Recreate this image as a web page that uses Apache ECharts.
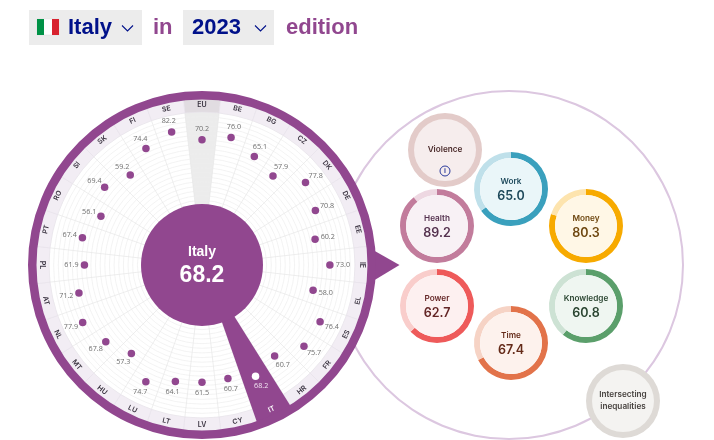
<!DOCTYPE html>
<html>
<head>
    <meta charset="utf-8">
    <title>Gender Equality Index</title>
    <style>
        html, body { margin: 0; padding: 0; background: #fff; }
        #chart { width: 714px; height: 440px; }
    </style>
</head>
<body>
    <div id="chart"></div>
    <script src="https://cdn.jsdelivr.net/npm/echarts@6/dist/echarts.min.js"></script>
    <script>
        // Country wheel
        const countries = ['EU', 'BE', 'BG', 'CZ', 'DK', 'DE', 'EE', 'IE', 'EL', 'ES', 'FR', 'HR', 'IT', 'CY',
            'LV', 'LT', 'LU', 'HU', 'MT', 'NL', 'AT', 'PL', 'PT', 'RO', 'SI', 'SK', 'FI', 'SE'];
        const scores = [70.2, 76.0, 65.1, 57.9, 77.8, 70.8, 60.2, 73.0, 58.0, 76.4, 75.7, 60.7, 68.2, 60.7,
            61.5, 64.1, 74.7, 57.3, 67.8, 77.9, 71.2, 61.9, 67.4, 56.1, 69.4, 59.2, 74.4, 82.2];
        const selectedCountry = 'IT';
        const selectedName = 'Italy';
        const selectedScore = 68.2;
        const edition = '2023';

        // Domain circles
        const domains = ['Work', 'Health', 'Money', 'Power', 'Knowledge', 'Time'];
        const domainScores = [65.0, 89.2, 80.3, 62.7, 60.8, 67.4];

        const domainStyles = {
            Work: { center: [511, 189], main: '#3aa0bd', pale: '#bfe0ea', fill: '#eaf6f9', text: '#1f4a5c' },
            Health: { center: [437, 226], main: '#c27c9c', pale: '#eed8e2', fill: '#f8f1f5', text: '#55324f' },
            Money: { center: [586, 226], main: '#f7aa00', pale: '#fde4ae', fill: '#fff7e6', text: '#6e4710' },
            Power: { center: [437, 306], main: '#ee5a5a', pale: '#f9cdcb', fill: '#fdf0f0', text: '#642626' },
            Knowledge: { center: [586, 306], main: '#5b9f6b', pale: '#cde2d4', fill: '#eff6f1', text: '#2b4632' },
            Time: { center: [511, 343], main: '#e2734a', pale: '#f6d3c5', fill: '#fdf2ed', text: '#642a18' }
        };

        const PURPLE = '#91478f';
        const NAVY = '#00118a';
        const wheelCenter = [202, 265];
        const sliceAngle = 360 / countries.length;
        const startAngle = 90 + sliceAngle / 2;
        const headFont = '"Liberation Sans", Arial, sans-serif';
        const numFont = '"Open Sans", sans-serif';
        const domainFont = 'Inter, sans-serif';

        function slices(colorFor) {
            return countries.map(name => ({ name: name, value: 1, itemStyle: { color: colorFor(name) } }));
        }

        function ringSeries(radius, color, z) {
            return {
                type: 'pie', silent: true, center: wheelCenter, radius: radius, z: z,
                label: { show: false }, data: [{ value: 1, itemStyle: { color: color } }]
            };
        }

        function discSeries(center, radius, color, label) {
            return {
                type: 'pie', silent: true, center: center, radius: [0, radius], z: 4,
                label: label, labelLine: { show: false },
                data: [{ value: 1, name: 'disc', itemStyle: { color: color } }]
            };
        }

        const series = [
            // big outline around the domain circles
            {
                type: 'pie', silent: true, center: [509, 265], radius: [173, 175], z: 0,
                label: { show: false }, data: [{ value: 1, itemStyle: { color: '#dcc7e0' } }]
            },
            ringSeries([0, 170], '#ffffff', 0),
            // EU sector behind the grid
            {
                type: 'pie', silent: true, center: wheelCenter, radius: [60, 153], startAngle: startAngle, z: 0,
                label: { show: false },
                data: slices(name => name === 'EU' ? '#ececec' : 'transparent')
            },
            // band of country codes
            {
                type: 'pie', silent: true, center: wheelCenter, radius: [153, 167], startAngle: startAngle, z: 2,
                itemStyle: { borderColor: '#e6e1e9', borderWidth: 0.6 },
                label: { show: false },
                data: countries.map(name => ({
                    name: name,
                    value: 1,
                    itemStyle: { color: name === 'EU' ? '#e1dce1' : '#f2edf4' }
                }))
            },
            // selected country sector over the grid and the band
            {
                type: 'pie', silent: true, center: wheelCenter, radius: [60, 167], startAngle: startAngle, z: 2,
                label: { show: false },
                data: slices(name => name === selectedCountry ? PURPLE : 'transparent')
            },
            // the codes sit on their own clear ring so they land mid-band
            {
                type: 'pie', silent: true, center: wheelCenter, radius: [150, 164], startAngle: startAngle, z: 3,
                itemStyle: { color: 'transparent' },
                labelLine: { show: false },
                label: {
                    show: true, position: 'inside', rotate: 'tangential', formatter: '{b}',
                    fontFamily: domainFont, fontSize: 7, fontWeight: 600, color: '#3a3340'
                },
                data: countries.map(name => ({
                    name: name,
                    value: 1,
                    label: name === selectedCountry ? { color: '#fff' } : {}
                }))
            },
            ringSeries([165.5, 174], PURPLE, 3),
            // country scores
            {
                type: 'scatter', coordinateSystem: 'polar', silent: true, symbolSize: 7.5, z: 5,
                itemStyle: { color: PURPLE, opacity: 1 },
                data: scores.map((score, i) => {
                    const a = i * sliceAngle * Math.PI / 180;
                    const isSelected = countries[i] === selectedCountry;
                    return {
                        value: [score, i],
                        itemStyle: { color: isSelected ? '#fff' : PURPLE, opacity: 1 },
                        label: {
                            show: true,
                            position: 'inside',
                            offset: [13 * Math.sin(a), -11 * Math.cos(a)],
                            formatter: score.toFixed(1),
                            fontFamily: numFont,
                            fontSize: 7.2,
                            color: isSelected ? '#f3e6f3' : '#6f6f6f'
                        }
                    };
                })
            },
            // centre disc
            discSeries(wheelCenter, 61, PURPLE, {
                show: true, position: 'center',
                formatter: '{a|' + selectedName + '}\n{b|' + selectedScore.toFixed(1) + '}',
                rich: {
                    a: { fontFamily: headFont, fontSize: 14, fontWeight: 700, color: '#fff', lineHeight: 22 },
                    b: { fontFamily: headFont, fontSize: 23, fontWeight: 700, color: '#fff', lineHeight: 26 }
                }
            }),
            // domains without a score
            discSeries([445, 150], 37, '#e3cbc9', { show: false }),
            discSeries([445, 150], 31, '#f6eded', {
                show: true, position: 'center', formatter: 'Violence',
                fontFamily: domainFont, fontSize: 8.2, fontWeight: 600, color: '#4a2a2a'
            }),
            discSeries([623, 401], 37, '#dedad6', { show: false }),
            discSeries([623, 401], 31, '#f4f3f1', {
                show: true, position: 'center', formatter: 'Intersecting\ninequalities', lineHeight: 12,
                fontFamily: domainFont, fontSize: 8.2, fontWeight: 600, color: '#47423f'
            })
        ];

        // domain rings and their scores
        domains.forEach((name, i) => {
            const st = domainStyles[name];
            series.push({
                type: 'pie', silent: true, center: st.center, radius: [31, 37], z: 4,
                label: { show: false },
                data: [
                    { value: domainScores[i], itemStyle: { color: st.main } },
                    { value: 100 - domainScores[i], itemStyle: { color: st.pale } }
                ]
            });
            series.push(discSeries(st.center, 31, st.fill, {
                show: true, position: 'center',
                formatter: '{a|' + name + '}\n{b|' + domainScores[i].toFixed(1) + '}',
                rich: {
                    a: { fontFamily: domainFont, fontSize: 8.2, fontWeight: 600, color: st.text, lineHeight: 15 },
                    b: { fontFamily: domainFont, fontSize: 12.5, fontWeight: 600, color: st.text, lineHeight: 15 }
                }
            }));
        });

        function chevron(x, y) {
            return {
                type: 'polyline',
                shape: { points: [[x, y], [x + 5.5, y + 5.5], [x + 11, y]] },
                style: { stroke: NAVY, lineWidth: 1.1, fill: null }
            };
        }

        function headerText(text, x, color) {
            return {
                type: 'text', x: x, y: 28,
                style: {
                    text: text, fill: color, verticalAlign: 'middle',
                    font: 'bold 22px ' + headFont
                }
            };
        }

        const graphic = [
            { type: 'rect', shape: { x: 29, y: 10, width: 113, height: 35 }, style: { fill: '#ececec' } },
            { type: 'rect', shape: { x: 37, y: 19, width: 22, height: 16 }, style: { fill: '#ffffff', stroke: '#ddd', lineWidth: 0.5 } },
            { type: 'rect', shape: { x: 37, y: 19, width: 7, height: 16 }, style: { fill: '#009246' } },
            { type: 'rect', shape: { x: 52, y: 19, width: 7, height: 16 }, style: { fill: '#d8232f' } },
            headerText(selectedName, 68, NAVY),
            chevron(122, 25.5),
            headerText('in', 153, PURPLE),
            { type: 'rect', shape: { x: 183, y: 10, width: 91, height: 35 }, style: { fill: '#ececec' } },
            headerText(edition, 192, NAVY),
            chevron(255, 25.5),
            headerText('edition', 286, PURPLE),
            // pointer from the wheel to the domain circle
            { type: 'polygon', shape: { points: [[373, 250], [399.5, 265], [373, 281]] }, style: { fill: PURPLE } },
            // info icon in the Violence circle
            {
                type: 'circle', z: 100, shape: { cx: 445, cy: 171, r: 5 },
                style: { fill: 'transparent', stroke: '#2b3a9c', lineWidth: 1 }
            },
            {
                type: 'text', z: 100, x: 445, y: 171,
                style: {
                    text: 'i', fill: '#2b3a9c', align: 'center', verticalAlign: 'middle',
                    font: 'bold 7px ' + headFont
                }
            }
        ];

        const chart = echarts.init(document.getElementById('chart'));
        chart.setOption({
            animation: false,
            polar: { center: wheelCenter, radius: [60, 153] },
            angleAxis: {
                type: 'category',
                data: countries,
                startAngle: startAngle,
                z: 1,
                axisLine: { show: false },
                axisTick: { show: false },
                axisLabel: { show: false },
                splitLine: { show: true, lineStyle: { color: '#e6e6e6', width: 0.7 } }
            },
            radiusAxis: {
                type: 'value',
                min: 0,
                max: 100,
                interval: 5,
                z: 1,
                axisLine: { show: false },
                axisTick: { show: false },
                axisLabel: { show: false },
                splitLine: { show: true, lineStyle: { color: '#eeeeee', width: 0.7 } }
            },
            graphic: { z: 50, elements: graphic },
            series: series
        });
    </script>
</body>
</html>
